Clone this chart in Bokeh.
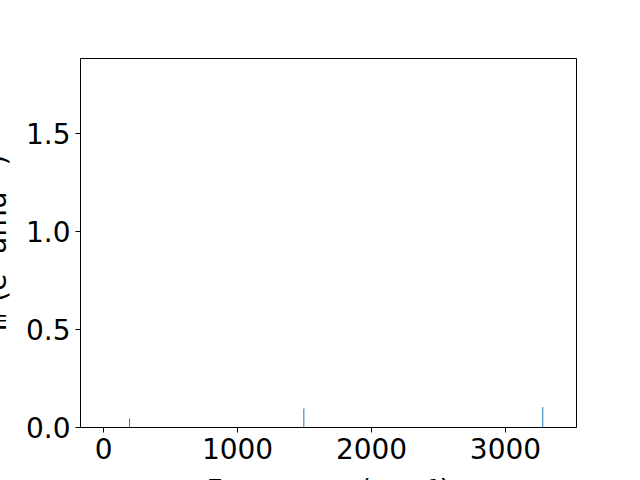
from bokeh.plotting import figure
from bokeh.layouts import column
from bokeh.models import FixedTicker, NumeralTickFormatter
from bokeh.embed import file_html
from bokeh.resources import INLINE

# Data
frequencies = [194, 1495, 3278]          # cm^-1
intensities = [0.046, 0.097, 0.104]      # e^2 amu^-1
x_ticks = [0, 1000, 2000, 3000]
y_ticks = [0.0, 0.5, 1.0, 1.5]
x_label = "Frequency (cm\u207b\u00b9)"
y_label = "I\u1d62\u1d63 (e\u00b2 amu\u207b\u00b9)"

FONT = "DejaVu Sans"
FS = "28px"

# The reference's axis labels run past the picture's left and bottom edges,
# so the canvas is a little larger and the overflow is hidden by the wrapper.
EXTRA_L = 25
EXTRA_B = 30
W = 640 + EXTRA_L
H = 480 + EXTRA_B

p = figure(width=W, height=H,
           x_range=(-172, 3530), y_range=(0.0, 1.883),
           output_backend="svg", toolbar_location=None,
           min_border_left=80 + EXTRA_L, min_border_right=64,
           min_border_top=58, min_border_bottom=53 + EXTRA_B,
           background_fill_color="white", border_fill_color="white",
           styles={"margin-left": f"-{EXTRA_L}px", "flex-shrink": "0",
                   "min-width": f"{W}px", "min-height": f"{H}px"})

p.grid.visible = False
p.outline_line_color = "black"
p.outline_line_width = 1

for ax in (p.xaxis[0], p.yaxis[0]):
    ax.axis_line_color = None
    ax.major_tick_out = 5
    ax.major_tick_in = 0
    ax.minor_tick_out = 0
    ax.minor_tick_in = 0
    ax.major_tick_line_color = "black"
    ax.major_label_text_font = FONT
    ax.major_label_text_font_size = FS
    ax.major_label_text_color = "black"
    ax.major_label_standoff = 5
    ax.axis_label_text_font = FONT
    ax.axis_label_text_font_size = FS
    ax.axis_label_text_font_style = "normal"
    ax.axis_label_text_color = "black"

p.xaxis[0].ticker = FixedTicker(ticks=x_ticks)
p.yaxis[0].ticker = FixedTicker(ticks=y_ticks)
p.yaxis[0].formatter = NumeralTickFormatter(format="0.0")

p.xaxis[0].axis_label = x_label
p.xaxis[0].axis_label_standoff = 12
p.yaxis[0].axis_label = y_label
p.yaxis[0].axis_label_standoff = 10

p.segment(x0=frequencies, y0=[0] * len(frequencies), x1=frequencies, y1=intensities,
          line_color="#1f77b4", line_width=1)

page = column(p, width=640, height=480, styles={"overflow": "hidden"})

open("out.html", "w").write(file_html(page, INLINE))
